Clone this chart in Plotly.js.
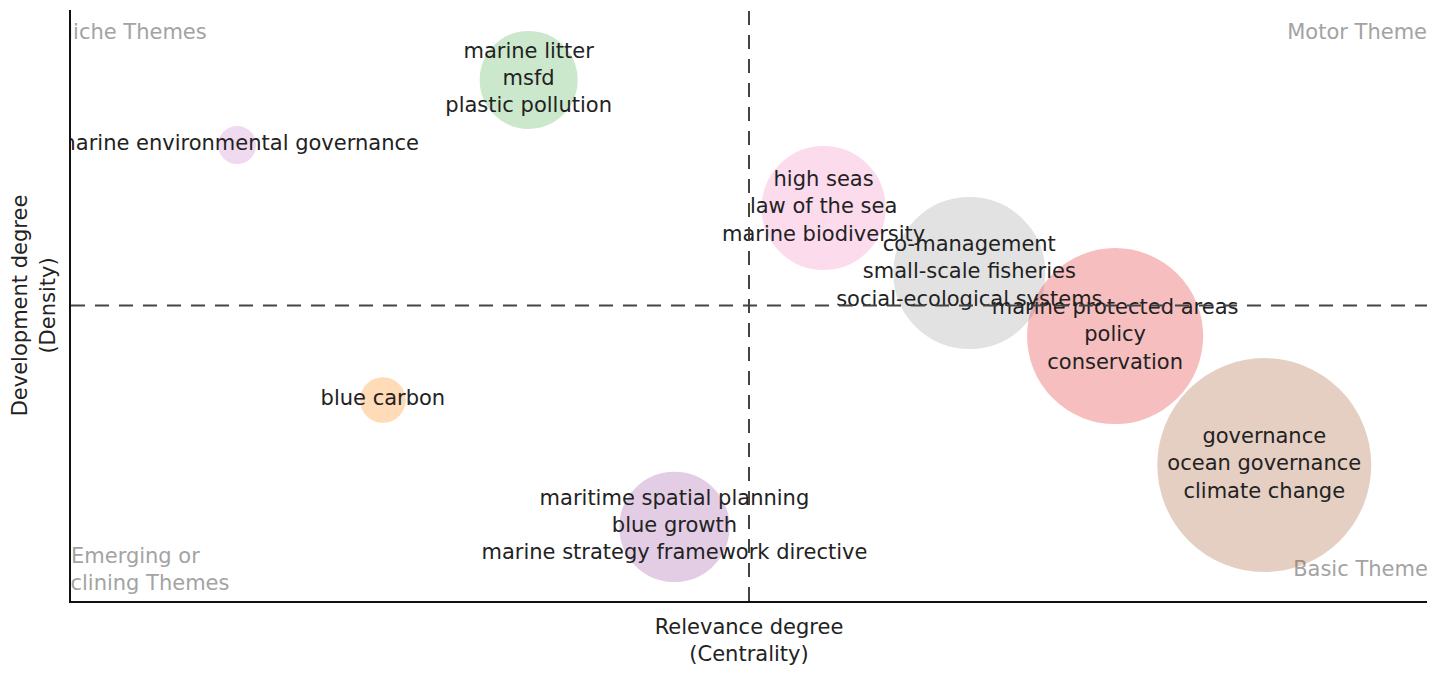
<!DOCTYPE html>
<html>
<head>
<meta charset="utf-8">
<script src="https://cdn.plot.ly/plotly-3.0.1.min.js"></script>
<style>html,body{margin:0;padding:0;background:#fff;}#chart{width:1433px;height:678px;}</style>
</head>
<body>
<div id="chart"></div>
<script>
// Cluster labels (top 3 keywords per theme)
const clusterLabels = [
  "marine litter<br>msfd<br>plastic pollution",
  "marine environmental governance",
  "high seas<br>law of the sea<br>marine biodiversity",
  "co-management<br>small-scale fisheries<br>social-ecological systems",
  "marine protected areas<br>policy<br>conservation",
  "governance<br>ocean governance<br>climate change",
  "blue carbon",
  "maritime spatial planning<br>blue growth<br>marine strategy framework directive"
];
// Centrality (relevance degree)
const centrality = [2.35, 1.49, 3.22, 3.65, 4.08, 4.52, 1.92, 2.78];
// Density (development degree)
const density = [36.45, 33.15, 29.95, 26.65, 23.45, 16.90, 20.20, 13.76];
// Cluster frequency (bubble size)
const frequency = [92, 13, 149, 225, 303, 449, 19, 117];
const clusterColors = ["#4DAF4A", "#C77CC7", "#F781BF", "#999999", "#E41A1C", "#A65628", "#FF7F00", "#984EA3"];

// Quadrant labels
const quadrantText = ["Niche Themes", "Motor Themes", "Emerging or<br>Declining Themes", "Basic Themes"];
const quadrantX = [1.18, 4.81, 1.19, 4.82];
const quadrantY = [38.78, 38.78, 11.52, 11.52];

const xRange = [1.0, 5.0];
const yRange = [10, 40];
const xMean = (xRange[0] + xRange[1]) / 2;
const yMean = (yRange[0] + yRange[1]) / 2;

const FONT = "DejaVu Sans, Verdana, sans-serif";

const quadTrace = {
  type: "scatter", mode: "text",
  x: quadrantX, y: quadrantY, text: quadrantText,
  textposition: "middle center",
  textfont: {family: FONT, size: 21, color: "#a3a3a3"},
  hoverinfo: "skip", showlegend: false, cliponaxis: true
};

const bubbleTrace = {
  type: "scatter", mode: "markers+text",
  x: centrality, y: density, text: clusterLabels,
  textposition: "middle center",
  textfont: {family: FONT, size: 21, color: "#222"},
  marker: {
    size: frequency, sizemode: "area", sizeref: 0.02,
    color: clusterColors, opacity: 0.28,
    line: {color: clusterColors, width: 2}
  },
  hoverinfo: "text", showlegend: false, cliponaxis: true
};

const layout = {
  width: 1433, height: 678,
  margin: {l: 71, r: 6, t: 10, b: 77},
  paper_bgcolor: "#fff", plot_bgcolor: "#fff",
  font: {family: FONT, size: 21, color: "#222"},
  showlegend: false,
  xaxis: {
    range: xRange, showgrid: false, zeroline: false, showticklabels: false, ticks: "",
    showline: true, linecolor: "#111", linewidth: 2,
    title: {text: "Relevance degree<br>(Centrality)", font: {size: 21, color: "#222"}, standoff: 17}
  },
  yaxis: {
    range: yRange, showgrid: false, zeroline: false, showticklabels: false, ticks: "",
    showline: true, linecolor: "#111", linewidth: 2,
    title: {text: "Development degree<br>(Density)", font: {size: 21, color: "#222"}, standoff: 8}
  },
  shapes: [
    {type: "line", xref: "x", yref: "paper", x0: xMean, x1: xMean, y0: 0, y1: 1,
     line: {color: "#444", width: 2, dash: "14px,10px"}, layer: "above"},
    {type: "line", xref: "paper", yref: "y", x0: 0, x1: 1, y0: yMean, y1: yMean,
     line: {color: "#444", width: 2, dash: "14px,10px"}, layer: "above"}
  ]
};

Plotly.newPlot("chart", [quadTrace, bubbleTrace], layout, {displayModeBar: false, responsive: false});
</script>
</body>
</html>
